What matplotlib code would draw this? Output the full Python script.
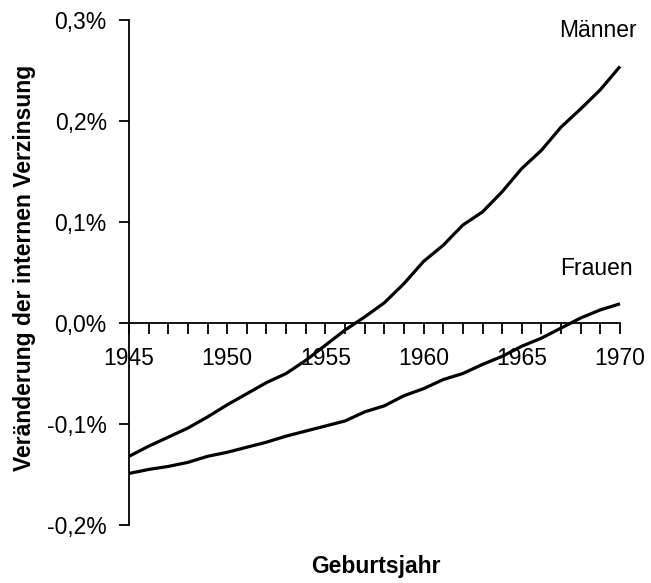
import matplotlib
matplotlib.use("Agg")
import matplotlib.pyplot as plt
import numpy as np

plt.rcParams['font.family'] = ['Liberation Sans', 'DejaVu Sans']

years = list(range(1945, 1971))
maenner = [-0.132, -0.122, -0.113, -0.104, -0.093, -0.081, -0.070, -0.059, -0.050, -0.037,
           -0.022, -0.007, 0.006, 0.020, 0.039, 0.061, 0.077, 0.097, 0.110, 0.130,
           0.153, 0.171, 0.194, 0.212, 0.231, 0.254]
frauen = [-0.149, -0.145, -0.142, -0.138, -0.132, -0.128, -0.123, -0.118, -0.112, -0.107,
          -0.102, -0.097, -0.088, -0.082, -0.072, -0.065, -0.056, -0.050, -0.041, -0.033,
          -0.023, -0.015, -0.005, 0.005, 0.013, 0.019]
xticks = [1945, 1950, 1955, 1960, 1965, 1970]
yticks = [-0.2, -0.1, 0.0, 0.1, 0.2, 0.3]
ytick_labels = ['-0,2%', '-0,1%', '0,0%', '0,1%', '0,2%', '0,3%']

FS = 16.5

fig = plt.figure(figsize=(6.51, 5.83), dpi=100)
ax = fig.add_axes([129/651, 1-525/583, (620-129)/651, (525-20)/583])

ax.plot(years, maenner, color='black', lw=2.3, solid_capstyle='butt', clip_on=False)
ax.plot(years, frauen, color='black', lw=2.3, solid_capstyle='butt', clip_on=False)

ax.set_xlim(1945, 1970)
ax.set_ylim(-0.2, 0.3)
ax.spines['top'].set_visible(False)
ax.spines['right'].set_visible(False)
ax.spines['bottom'].set_position(('data', 0))
ax.spines['left'].set_linewidth(1.3)
ax.spines['bottom'].set_linewidth(1.3)

ax.set_xticks(xticks)
ax.set_xticks(years, minor=True)
ax.set_yticks(yticks)
ax.set_yticklabels(ytick_labels)
ax.tick_params(axis='x', which='both', direction='out', length=8, width=1.3, pad=9, labelsize=FS)
ax.tick_params(axis='y', direction='out', length=7, width=1.3, pad=9, labelsize=FS)

for lab in ax.get_xticklabels():
    lab.set_bbox(dict(facecolor='white', edgecolor='none', pad=1))

ax.text(1945 + (637-129)/19.64, (323-37)/1010, 'Männer', fontsize=FS, ha='right', va='baseline', clip_on=False)
ax.text(1945 + (633-129)/19.64, (323-275)/1010, 'Frauen', fontsize=FS, ha='right', va='baseline', clip_on=False)

fig.text(376/651, 1-573/583, 'Geburtsjahr', fontsize=FS, fontweight='bold', ha='center', va='baseline')
fig.text(25/651, 1-268/583, 'Veränderung der internen Verzinsung', fontsize=FS, fontweight='bold',
         ha='center', va='center', rotation=90)

fig.savefig('out.png', dpi=100)
